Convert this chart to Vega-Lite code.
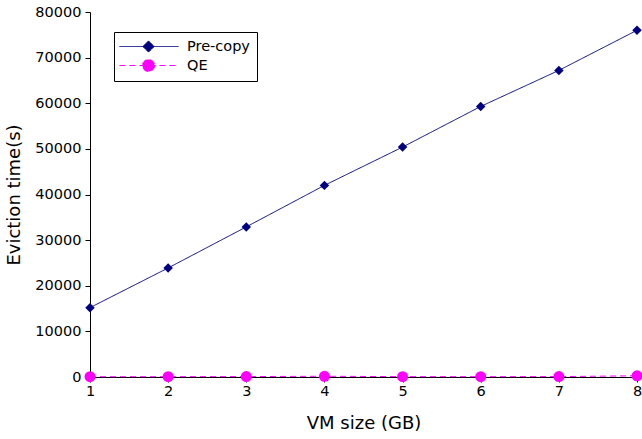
{
  "$schema": "https://vega.github.io/schema/vega-lite/v6.json",
  "width": 547,
  "height": 365,
  "autosize": {"type": "none"},
  "padding": {"left": 90, "top": 12, "right": 5, "bottom": 62},
  "background": "white",
  "config": {
    "view": {"stroke": null},
    "font": "DejaVu Sans",
    "axis": {
      "grid": false,
      "domainColor": "black",
      "tickColor": "black",
      "tickSize": 5,
      "labelFlush": false,
      "labelColor": "black",
      "labelFontSize": 14.5,
      "labelFont": "DejaVu Sans",
      "titleFont": "DejaVu Sans",
      "titleFontSize": 18,
      "titleFontWeight": "normal",
      "titleColor": "black"
    }
  },
  "data": {
    "values": [
      {"size": 1, "series": "Pre-copy", "time": 15200},
      {"size": 2, "series": "Pre-copy", "time": 23900},
      {"size": 3, "series": "Pre-copy", "time": 32900},
      {"size": 4, "series": "Pre-copy", "time": 42000},
      {"size": 5, "series": "Pre-copy", "time": 50400},
      {"size": 6, "series": "Pre-copy", "time": 59300},
      {"size": 7, "series": "Pre-copy", "time": 67200},
      {"size": 8, "series": "Pre-copy", "time": 76000},
      {"size": 1, "series": "QE", "time": 60},
      {"size": 2, "series": "QE", "time": 70},
      {"size": 3, "series": "QE", "time": 90},
      {"size": 4, "series": "QE", "time": 160},
      {"size": 5, "series": "QE", "time": 80},
      {"size": 6, "series": "QE", "time": 70},
      {"size": 7, "series": "QE", "time": 90},
      {"size": 8, "series": "QE", "time": 260}
    ]
  },
  "encoding": {
    "x": {
      "field": "size", "type": "quantitative",
      "scale": {"domain": [1, 8], "nice": false, "zero": false},
      "axis": {"title": "VM size (GB)", "values": [1,2,3,4,5,6,7,8], "format": "d", "labelPadding": 2, "titlePadding": 17}
    },
    "y": {
      "field": "time", "type": "quantitative",
      "scale": {"domain": [0, 80000], "nice": false},
      "axis": {"title": "Eviction time(s)", "values": [0,10000,20000,30000,40000,50000,60000,70000,80000], "format": "d", "labelPadding": 4, "titlePadding": 11}
    }
  },
  "layer": [
    {
      "mark": {"type": "line", "strokeWidth": 1},
      "encoding": {
        "strokeDash": {
          "field": "series", "type": "nominal",
          "scale": {"domain": ["Pre-copy", "QE"], "range": [[1, 0], [6, 4]]},
          "legend": null
        },
        "color": {
          "field": "series", "type": "nominal",
          "scale": {"domain": ["Pre-copy", "QE"], "range": ["#000080", "#FF00FF"]},
          "legend": {
            "title": null,
            "orient": "none",
            "legendX": 24,
            "legendY": 20,
            "strokeColor": "black",
            "fillColor": "white",
            "padding": 7,
            "rowPadding": 2,
            "symbolSize": 196,
            "symbolStrokeWidth": 1,
            "labelFontSize": 14.5,
            "labelFont": "DejaVu Sans",
            "labelColor": "black",
            "labelOffset": 51,
            "labelLimit": 300,
            "encode": {
              "symbols": {
                "update": {
                  "shape": {"signal": "datum.value === 'Pre-copy' ? 'M-1.29,0H7.14M2.86,-0.8L3.66,0L2.86,0.8L2.06,0Z' : 'M-1.29,0H7.14M3.72,0A0.86,0.86 0 1,1 2.0,0A0.86,0.86 0 1,1 3.72,0Z'"},
                  "size": {"value": 196},
                  "strokeWidth": {"value": 1},
                  "fill": {"signal": "datum.value === 'Pre-copy' ? '#000080' : '#FF00FF'"},
                  "stroke": {"signal": "datum.value === 'Pre-copy' ? '#000080' : '#FF00FF'"},
                  "strokeDash": {"signal": "datum.value === 'Pre-copy' ? [1,0] : [5,4]"},
                  "fillOpacity": {"value": 1},
                  "strokeOpacity": {"value": 1},
                  "opacity": {"value": 1}
                }
              }
            }
          }
        }
      }
    },
    {
      "transform": [{"filter": "datum.series === 'Pre-copy'"}],
      "mark": {"type": "point", "filled": true, "opacity": 1, "shape": "diamond", "size": 90, "color": "#000080"}
    },
    {
      "transform": [{"filter": "datum.series === 'QE'"}],
      "mark": {"type": "point", "filled": true, "opacity": 1, "shape": "circle", "size": 120, "color": "#FF00FF"}
    }
  ]
}
